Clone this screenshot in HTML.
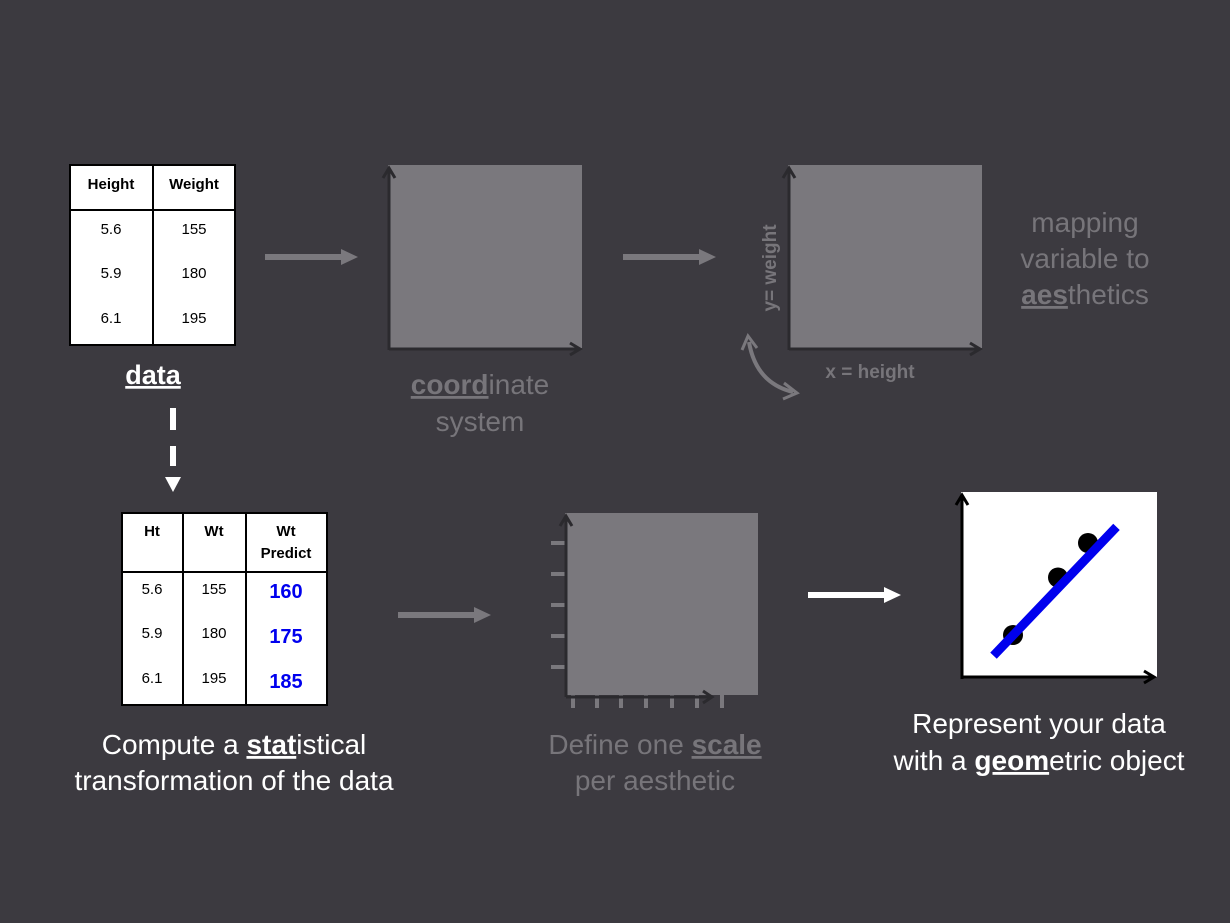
<!DOCTYPE html>
<html><head><meta charset="utf-8">
<style>
html,body{margin:0;padding:0;background:#3c3a40;}
svg{display:block;font-family:"Liberation Sans","DejaVu Sans",sans-serif;}
</style></head>
<body>
<svg id="s" width="1230" height="923" viewBox="0 0 1230 923">
<rect x="0" y="0" width="1230" height="923" fill="#3c3a40"/>

<g>
<rect x="70" y="165" width="165" height="180" fill="#fff" stroke="#000" stroke-width="2"/>
<line x1="70" y1="210" x2="235" y2="210" stroke="#000" stroke-width="2"/>
<line x1="153" y1="165" x2="153" y2="345" stroke="#000" stroke-width="2"/>
<g font-size="15" text-anchor="middle" fill="#000">
<text x="111" y="189" font-weight="bold">Height</text><text x="194" y="189" font-weight="bold">Weight</text>
<text x="111" y="234">5.6</text><text x="194" y="234">155</text>
<text x="111" y="278">5.9</text><text x="194" y="278">180</text>
<text x="111" y="323">6.1</text><text x="194" y="323">195</text>
</g></g>
<text x="153" y="384" font-size="27" font-weight="bold" fill="#fff" text-anchor="middle" text-decoration="underline">data</text>

<g>
<rect x="170" y="408" width="6" height="22" fill="#fff"/>
<rect x="170" y="446" width="6" height="20" fill="#fff"/>
<polygon points="165,477 181,477 173,492" fill="#fff"/>
</g>

<g fill="#7a787d"><rect x="265" y="254" width="78" height="6"/><polygon points="341,249 358,257 341,265"/></g>
<g fill="#7a787d"><rect x="623" y="254" width="78" height="6"/><polygon points="699,249 716,257 699,265"/></g>
<g fill="#7a787d"><rect x="398" y="612" width="78" height="6"/><polygon points="474,607 491,615 474,623"/></g>
<g fill="#fff"><rect x="808" y="592" width="78" height="6"/><polygon points="884,587 901,595 884,603"/></g>

<g>
<rect x="388" y="165" width="194" height="183" fill="#7a787d"/>
<path d="M389,350 V168 M383,178 L389,168 L395,178 M389,349 H580 M570,343 L580,349 L570,355" stroke="#2b2a2e" stroke-width="3" fill="none"/>
</g>
<g font-size="28" fill="#77757a" text-anchor="middle">
<text x="480" y="394"><tspan font-weight="bold" text-decoration="underline">coord</tspan>inate</text>
<text x="480" y="431">system</text></g>

<g>
<rect x="788" y="165" width="194" height="183" fill="#7a787d"/>
<path d="M789,350 V168 M783,178 L789,168 L795,178 M789,349 H980 M970,343 L980,349 L970,355" stroke="#2b2a2e" stroke-width="3" fill="none"/>
</g>
<text transform="translate(776,268) rotate(-90)" font-size="19" font-weight="bold" fill="#77757a" text-anchor="middle">y= weight</text>
<text x="870" y="378" font-size="19" font-weight="bold" fill="#77757a" text-anchor="middle">x = height</text>
<g stroke="#7a787d" stroke-width="4" fill="none">
<path d="M749,342 Q756,383 793,392"/>
<path d="M742,350 L748,336 L757,348" stroke-width="3"/>
<path d="M784,383 L797,393 L783,399" stroke-width="3"/>
</g>
<g font-size="28" fill="#77757a" text-anchor="middle">
<text x="1085" y="232">mapping</text>
<text x="1085" y="268">variable to</text>
<text x="1085" y="304"><tspan font-weight="bold" text-decoration="underline">aes</tspan>thetics</text></g>

<g>
<rect x="122" y="513" width="205" height="192" fill="#fff" stroke="#000" stroke-width="2"/>
<line x1="122" y1="572" x2="327" y2="572" stroke="#000" stroke-width="2"/>
<line x1="183" y1="513" x2="183" y2="705" stroke="#000" stroke-width="2"/>
<line x1="246" y1="513" x2="246" y2="705" stroke="#000" stroke-width="2"/>
<g font-size="15" text-anchor="middle" fill="#000">
<text x="152" y="536" font-weight="bold">Ht</text><text x="214" y="536" font-weight="bold">Wt</text>
<text x="286" y="536" font-weight="bold">Wt</text><text x="286" y="558" font-weight="bold">Predict</text>
<text x="152" y="594">5.6</text><text x="214" y="594">155</text>
<text x="152" y="638">5.9</text><text x="214" y="638">180</text>
<text x="152" y="683">6.1</text><text x="214" y="683">195</text>
</g>
<g font-size="20" font-weight="bold" fill="#0000ee" text-anchor="middle">
<text x="286" y="598">160</text><text x="286" y="643">175</text><text x="286" y="688">185</text></g>
</g>
<g font-size="28" fill="#fff" text-anchor="middle">
<text x="234" y="754">Compute a <tspan font-weight="bold" text-decoration="underline">stat</tspan>istical</text>
<text x="234" y="790">transformation of the data</text></g>

<g>
<rect x="565" y="513" width="193" height="182" fill="#7a787d"/>
<g stroke="#7a787d" stroke-width="4">
<line x1="551" y1="543" x2="565" y2="543"/><line x1="551" y1="574" x2="565" y2="574"/><line x1="551" y1="605" x2="565" y2="605"/><line x1="551" y1="636" x2="565" y2="636"/><line x1="551" y1="667" x2="565" y2="667"/>
<line x1="573" y1="695" x2="573" y2="708"/><line x1="597" y1="695" x2="597" y2="708"/><line x1="621" y1="695" x2="621" y2="708"/><line x1="646" y1="695" x2="646" y2="708"/><line x1="672" y1="695" x2="672" y2="708"/><line x1="697" y1="695" x2="697" y2="708"/><line x1="722" y1="695" x2="722" y2="708"/>
</g>
<path d="M566,697 V516 M560,526 L566,516 L572,526 M566,697 H711 M703,691 L712,697 L703,703" stroke="#2b2a2e" stroke-width="3" fill="none"/>
</g>
<g font-size="28" fill="#77757a" text-anchor="middle">
<text x="655" y="754">Define one <tspan font-weight="bold" text-decoration="underline">scale</tspan></text>
<text x="655" y="790">per aesthetic</text></g>

<g id="geom">
<rect x="961" y="492" width="196" height="185" fill="#fff"/>
<path d="M962,679 V495 M956,505 L962,495 L968,505 M962,677 H1154 M1144,671 L1154,677 L1144,683" stroke="#000" stroke-width="3" fill="none"/>
</g>
<g font-size="28" fill="#fff" text-anchor="middle">
<text x="1039" y="733">Represent your data</text>
<text x="1039" y="770">with a <tspan font-weight="bold" text-decoration="underline">geom</tspan>etric object</text></g>
</svg>
<script>
const heights = [5.6, 5.9, 6.1];
const weights = [155, 180, 195];
const lineHeights = [5.47, 6.29];
const lineWeights = [146, 202];
const NS = "http://www.w3.org/2000/svg";
function xs(h){ return 1013 + (h - 5.6) * 150; }
function ys(w){ return 635 - (w - 155) * 2.3; }
const g = document.getElementById('geom');
heights.forEach((h, i) => {
  const c = document.createElementNS(NS, 'circle');
  c.setAttribute('cx', xs(h)); c.setAttribute('cy', ys(weights[i])); c.setAttribute('r', 10);
  c.setAttribute('fill', '#000');
  
  
  g.appendChild(c);
});
const ln = document.createElementNS(NS, 'line');
ln.setAttribute('x1', xs(lineHeights[0])); ln.setAttribute('y1', ys(lineWeights[0]));
ln.setAttribute('x2', xs(lineHeights[1])); ln.setAttribute('y2', ys(lineWeights[1]));
ln.setAttribute('stroke', '#0000ee'); ln.setAttribute('stroke-width', '9');


g.appendChild(ln);
</script>
</body></html>
